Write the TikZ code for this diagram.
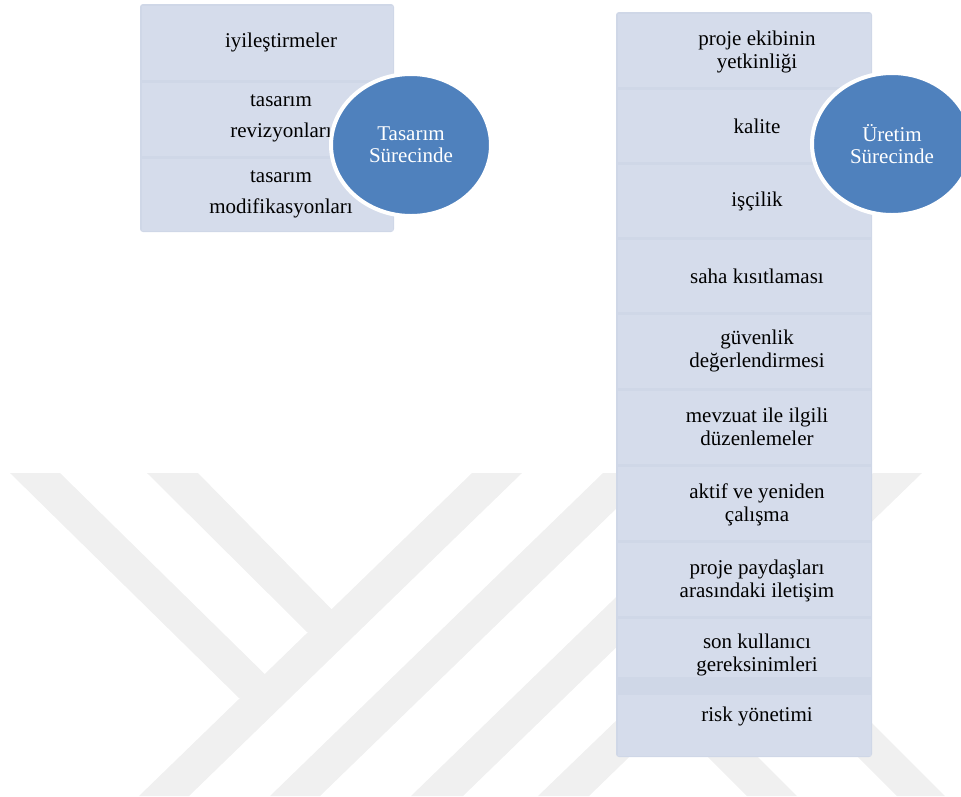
\documentclass[tikz,border=0pt]{standalone}
\usepackage{fontspec}
\setmainfont{Liberation Serif}
\usepackage{tikz}
\usetikzlibrary{shapes.geometric}
\definecolor{rowfill}{RGB}{213,220,235}
\definecolor{rowline}{RGB}{207,215,231}
\definecolor{stageblue}{RGB}{79,129,189}
\definecolor{wmgray}{RGB}{240,240,240}
\begin{document}
\begin{tikzpicture}[x=1pt,y=-1pt,
  rowtext/.style={align=center,inner sep=0pt,font=\fontsize{21}{23}\selectfont},
  widetext/.style={rowtext,font=\fontsize{21}{31}\selectfont},
  stage/.style={ellipse,draw=white,line width=4pt,fill=stageblue,text=white,
    minimum width=160pt,minimum height=142pt,inner sep=0pt,align=center,
    font=\fontsize{21}{22}\selectfont}]
\useasboundingbox (0,0) rectangle (961,796);

%watermark
\fill[wmgray] (472,473) -- (522,473) -- (189,796) -- (139,796) -- cycle;
\fill[wmgray] (603,473) -- (653,473) -- (320,796) -- (270,796) -- cycle;
\fill[wmgray] (744,473) -- (796,473) -- (463,796) -- (411,796) -- cycle;
\fill[wmgray] (873,473) -- (922,473) -- (589,796) -- (538,796) -- cycle;
\fill[wmgray] (10,473) -- (60,473) -- (281,690) -- (239,698) -- cycle;
\fill[wmgray] (147,473) -- (198,473) -- (350,628) -- (307,632) -- cycle;
\fill[wmgray] (651,700) -- (701,700) -- (797,796) -- (747,796) -- cycle;
\fill[wmgray] (801,700) -- (849,700) -- (945,796) -- (897,796) -- cycle;

%Tasarim
\fill[rowline,rounded corners=3pt] (140,4) rectangle (394,232);
\foreach \t/\b in {4/81, 81/157, 157/232}
  \fill[rowfill] (141.5,\t+1.5) rectangle (392.5,\b-1.5);
\node[rowtext] (iyi) at (281,42) {iyileştirmeler};
\node[widetext] (rev) at (281,118) {tasarım\\revizyonları};
\node[widetext] (mod) at (281,194) {tasarım\\modifikasyonları};
\node[stage] (tas) at (411,145) {Tasarım\\Sürecinde};

%Uretim
\fill[rowline,rounded corners=3pt] (616,12) rectangle (872,757);
\foreach \t/\b in {12/88, 88/163, 163/238, 238/313, 313/389, 389/465, 465/541, 541/617, 617/678, 693/757}
  \fill[rowfill] (617.5,\t+1.5) rectangle (870.5,\b-1.5);
\node[rowtext] (ekip) at (757,52) {proje ekibinin\\yetkinliği};
\node[rowtext] (kal) at (757,126) {kalite};
\node[rowtext] (isc) at (757,201) {işçilik};
\node[rowtext] (saha) at (757,276) {saha kısıtlaması};
\node[rowtext] (guv) at (757,351) {güvenlik\\değerlendirmesi};
\node[rowtext] (mev) at (757,427) {mevzuat ile ilgili\\düzenlemeler};
\node[rowtext] (akt) at (757,505) {aktif ve yeniden\\çalışma};
\node[rowtext] (pay) at (757,581) {proje paydaşları\\arasındaki iletişim};
\node[rowtext] (son) at (757,655) {son kullanıcı\\gereksinimleri};
\node[rowtext] (risk) at (757,716) {risk yönetimi};
\node[stage] (ure) at (892,144) {Üretim\\Sürecinde};

\end{tikzpicture}
\end{document}
